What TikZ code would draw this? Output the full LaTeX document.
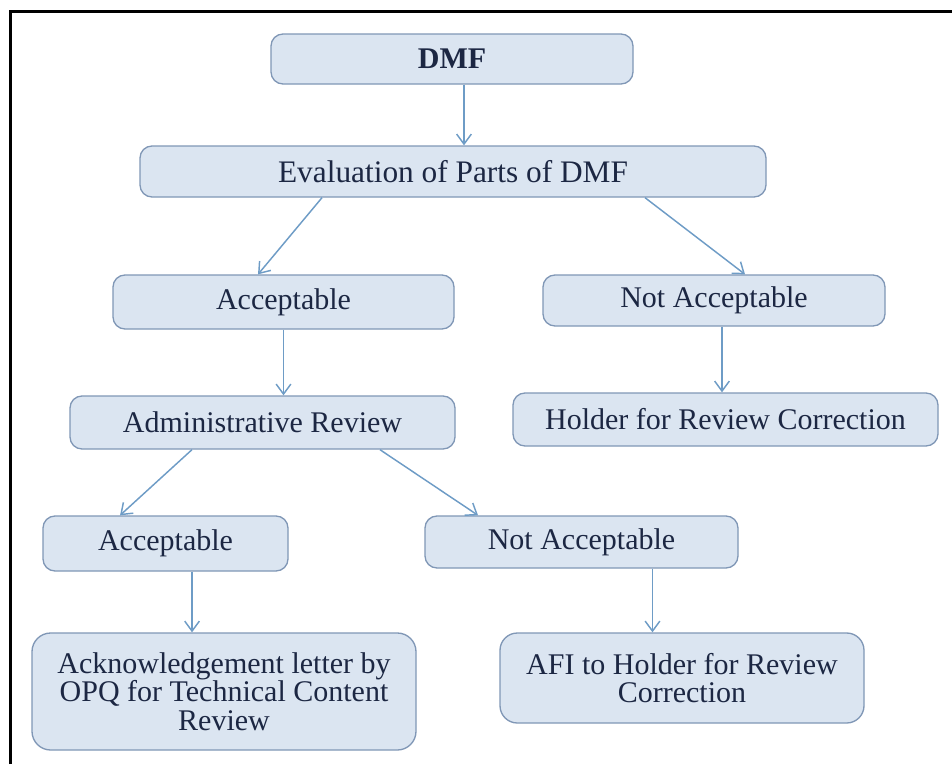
\documentclass[tikz,border=0pt]{standalone}
\usepackage{fontspec}
\setmainfont{Liberation Serif}
\usetikzlibrary{arrows.meta}
\definecolor{boxfill}{HTML}{DBE5F1}
\definecolor{boxline}{HTML}{8097B6}
\definecolor{arrowc}{HTML}{6E9CC6}
\definecolor{txt}{HTML}{1C2743}
\begin{document}
\begin{tikzpicture}[x=0.75pt,y=-0.75pt,
  flowbox/.style={draw=boxline, line width=1pt, fill=boxfill, rounded corners=9pt,
    text=txt, align=center, inner sep=0pt,
    font=\fontsize{22.5}{21.5}\selectfont},
  arr/.style={draw=arrowc, line width=1.1pt, -{Straight Barb[length=7.5pt,width=11pt,line width=1.1pt]}},
  frame/.style={line width=2.6pt, black}]
\useasboundingbox (0,0) rectangle (952,764);
\draw[frame] (10.3,764) -- (10.3,11.7) -- (952,11.7);

\node[flowbox, minimum width=362*0.75pt, minimum height=50*0.75pt] (dmf) at (452,59) {\textbf{DMF}};
\node[flowbox, minimum width=626*0.75pt, minimum height=51*0.75pt, font=\fontsize{23.5}{22}\selectfont] (eval) at (453,171.5) {Evaluation of Parts of DMF};
\node[flowbox, minimum width=341*0.75pt, minimum height=54*0.75pt] (acc1) at (283.5,302) {Acceptable};
\node[flowbox, minimum width=342*0.75pt, minimum height=51*0.75pt] (nacc1) at (714,300.5) {Not Acceptable};
\node[flowbox, minimum width=425*0.75pt, minimum height=53*0.75pt] (holder) at (725.5,419.5) {Holder for Review Correction};
\node[flowbox, minimum width=385*0.75pt, minimum height=53*0.75pt] (admin) at (262.5,422.5) {Administrative Review};
\node[flowbox, minimum width=245*0.75pt, minimum height=55*0.75pt] (acc2) at (165.5,543.5) {Acceptable};
\node[flowbox, minimum width=313*0.75pt, minimum height=52*0.75pt] (nacc2) at (581.5,542) {Not Acceptable};
\node[flowbox, minimum width=384*0.75pt, minimum height=117*0.75pt, rounded corners=14pt] (ack) at (224,691.5) {Acknowledgement letter by\\OPQ for Technical Content\\Review};
\node[flowbox, minimum width=364*0.75pt, minimum height=90*0.75pt, rounded corners=13pt] (afi) at (682,678) {AFI to Holder for Review\\Correction};

\draw[arr] ([xshift=9pt]dmf.south) -- ([xshift=9pt]dmf.south |- eval.north);
\draw[arr] ([xshift=-98.25pt]eval.south) -- ([xshift=-19.1pt]acc1.north);
\draw[arr] ([xshift=144pt]eval.south) -- ([xshift=23.25pt]nacc1.north);
\draw[arr] (acc1.south) -- (acc1.south |- admin.north);
\draw[arr] ([xshift=6pt]nacc1.south) -- ([xshift=6pt]nacc1.south |- holder.north);
\draw[arr] ([xshift=-52.9pt]admin.south) -- ([xshift=-34.1pt]acc2.north);
\draw[arr] ([xshift=88.1pt]admin.south) -- ([xshift=-77.6pt]nacc2.north);
\draw[arr] ([xshift=19.9pt]acc2.south) -- ([xshift=19.9pt]acc2.south |- ack.north);
\draw[arr] ([xshift=53.25pt]nacc2.south) -- ([xshift=53.25pt]nacc2.south |- afi.north);
\end{tikzpicture}
\end{document}
